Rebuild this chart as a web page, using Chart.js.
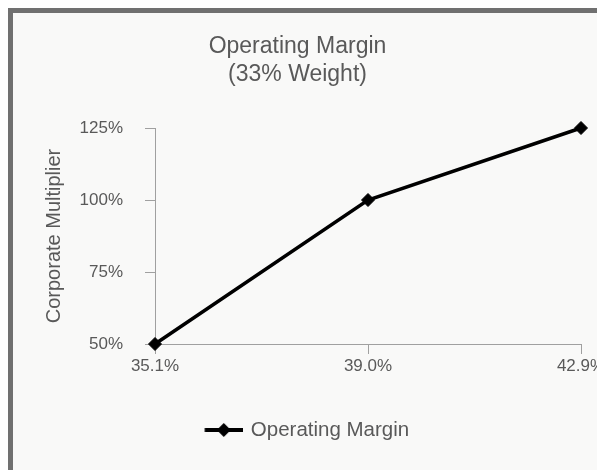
<!DOCTYPE html>
<html>
<head>
<meta charset="utf-8">
<script src="https://cdn.jsdelivr.net/npm/chart.js@4"></script>
<style>
  html, body { margin: 0; padding: 0; overflow: hidden; background: #fff; }
  #frame {
    position: absolute; left: 8px; top: 8px;
    width: 640px; height: 500px;
    border: 5px solid #707070;
    background: #f9f9f8;
  }
  #chart { display: block; }
</style>
</head>
<body>
<div id="frame"><canvas id="chart" width="620" height="460"></canvas></div>
<script>
// chart data
const categories = ["35.1%", "39.0%", "42.9%"];
const multiplier = [50, 100, 125];
const yTicks = [50, 75, 100, 125];

const textColor = "#595959";
const axisColor = "#a0a0a0";
const font = "'Liberation Sans', Arial, sans-serif";

// legend icon: line with a diamond, like the office style legend
function makeLegendIcon() {
  const c = document.createElement("canvas");
  c.width = 60;
  c.height = 18;
  const g = c.getContext("2d");
  g.strokeStyle = "#000";
  g.lineWidth = 4;
  g.beginPath();
  g.moveTo(21.5, 9);
  g.lineTo(60, 9);
  g.stroke();
  g.fillStyle = "#000";
  g.beginPath();
  g.moveTo(40.6 - 7, 9);
  g.lineTo(40.6, 2);
  g.lineTo(40.6 + 7, 9);
  g.lineTo(40.6, 16);
  g.closePath();
  g.fill();
  return c;
}
const legendIcon = makeLegendIcon();

new Chart(document.getElementById("chart"), {
  type: "line",
  data: {
    labels: categories,
    datasets: [{
      label: "Operating Margin",
      data: multiplier,
      borderColor: "#000",
      backgroundColor: "#000",
      borderWidth: 3.5,
      pointStyle: "rectRot",
      pointRadius: 6.5,
      pointBorderWidth: 1,
      pointBackgroundColor: "#000",
      pointBorderColor: "#000",
      tension: 0,
      clip: false
    }]
  },
  options: {
    responsive: false,
    animation: false,
    layout: { padding: { left: 1, right: 52, top: 0, bottom: 22.75 } },
    plugins: {
      title: {
        display: true,
        text: ["Operating Margin", "(33% Weight)"],
        color: textColor,
        font: { family: font, size: 23, weight: "normal", lineHeight: 1.2 },
        padding: { top: 20, bottom: 39.8 }
      },
      legend: {
        position: "bottom",
        labels: {
          usePointStyle: true,
          pointStyleWidth: 54.75,
          padding: 41.35,
          color: textColor,
          font: { family: font, size: 20.5 },
          generateLabels: () => [{
            text: "Operating Margin",
            pointStyle: legendIcon,
            fontColor: textColor,
            fillStyle: "transparent",
            strokeStyle: "transparent",
            lineWidth: 0,
            hidden: false,
            datasetIndex: 0
          }]
        }
      },
      tooltip: { enabled: false }
    },
    scales: {
      x: {
        offset: false,
        grid: { drawOnChartArea: false, drawTicks: true, tickLength: 10, color: axisColor },
        border: { display: true, color: axisColor, width: 1 },
        ticks: { color: textColor, padding: 2, maxRotation: 0, font: { family: font, size: 17 } }
      },
      y: {
        min: yTicks[0],
        max: yTicks[yTicks.length - 1],
        afterBuildTicks: (scale) => { scale.ticks = yTicks.map(v => ({ value: v })); },
        afterFit: (scale) => { scale.width = 141; },
        grid: { drawOnChartArea: false, drawTicks: true, tickLength: 10, color: axisColor },
        border: { display: true, color: axisColor, width: 1 },
        ticks: {
          color: textColor,
          padding: 22,
          font: { family: font, size: 17 },
          callback: (v) => v + "%"
        },
        title: {
          display: true,
          text: "Corporate Multiplier",
          color: textColor,
          font: { family: font, size: 20, lineHeight: 1.2 },
          padding: { top: 28, bottom: 0 }
        }
      }
    }
  }
});
</script>
</body>
</html>
